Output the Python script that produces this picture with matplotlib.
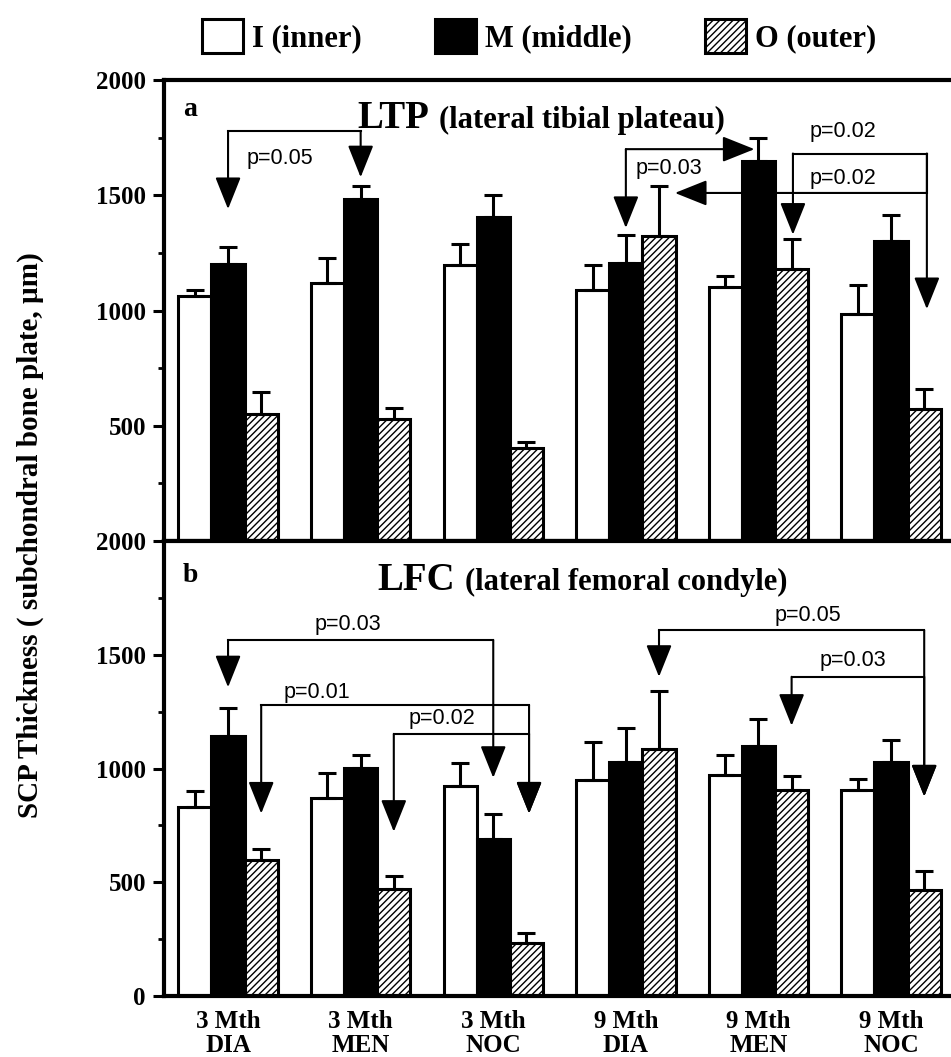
import numpy as np
import matplotlib.pyplot as plt
from matplotlib.ticker import MultipleLocator

plt.rcParams['font.family'] = 'Liberation Serif'
plt.rcParams['font.weight'] = 'bold'
plt.rcParams['hatch.linewidth'] = 1.0

# groups and zones
groups = ['3 Mth\nDIA', '3 Mth\nMEN', '3 Mth\nNOC', '9 Mth\nDIA', '9 Mth\nMEN', '9 Mth\nNOC']
zones = ['I (inner)', 'M (middle)', 'O (outer)']

# a: LTP (lateral tibial plateau), mean and upper SE
ltp_inner = [1065, 1119, 1197, 1087, 1101, 984]
ltp_middle = [1200, 1483, 1405, 1204, 1648, 1300]
ltp_outer = [551, 529, 404, 1322, 1182, 573]
ltp_inner_err = [25, 107, 92, 110, 47, 125]
ltp_middle_err = [77, 56, 96, 125, 102, 113]
ltp_outer_err = [95, 47, 25, 220, 128, 85]

# b: LFC (lateral femoral condyle)
lfc_inner = [832, 869, 925, 949, 971, 907]
lfc_middle = [1143, 1001, 689, 1030, 1098, 1030]
lfc_outer = [599, 471, 231, 1087, 904, 467]
lfc_inner_err = [70, 110, 99, 168, 89, 45]
lfc_middle_err = [124, 59, 110, 147, 120, 95]
lfc_outer_err = [45, 56, 45, 252, 63, 84]

# significance brackets: (x_left, tip_left, x_right, tip_right, y_bar, label, text_x, text_y)
# tip None -> no down arrow on that side
ltp_brackets = [
    (0.0, 1440, 1.0, 1578, 1777, 'p=0.05', 0.14, 1660),
    (4.26, 1329, 5.27, 1006, 1681, 'p=0.02', 4.385, 1775),
]
# horizontal arrows: (x_from, x_to, y, down_tip_at_from, label, text_x, text_y)
ltp_side = [
    (3.0, 3.97, 1700, 1358, 'p=0.03', 3.07, 1617),
    (5.27, 3.37, 1510, None, 'p=0.02', 4.385, 1572),
]
lfc_brackets = [
    (0.0, 1357, 2.0, 959, 1565, 'p=0.03', 0.656, 1635),
    (0.25, 802, 2.27, 802, 1278, 'p=0.01', 0.415, 1335),
    (1.25, 722, 2.27, 802, 1152, 'p=0.02', 1.36, 1218),
    (3.25, 1403, 5.25, 877, 1608, 'p=0.05', 4.12, 1673),
    (4.25, 1188, 5.25, 877, 1403, 'p=0.03', 4.46, 1473),
]

x = np.arange(len(groups))
w = 0.25
arrow_kw = dict(arrowstyle='-|>,head_length=1.0,head_width=0.4', mutation_scale=20,
                lw=1.5, color='k', shrinkA=0, shrinkB=0)
pfont = dict(family='Liberation Sans', weight='normal', fontsize=15.5)


def draw_bars(ax, inner, middle, outer, e_in, e_mid, e_out):
    ekw = dict(elinewidth=2.2, capsize=6.5, capthick=2.2, ecolor='k', zorder=3)
    zeros = np.zeros(len(x))
    b1 = ax.bar(x - w, inner, w, color='white', edgecolor='k', linewidth=2.2,
                yerr=[zeros, e_in], error_kw=ekw)
    b2 = ax.bar(x, middle, w, color='k', edgecolor='k', linewidth=2.2,
                yerr=[zeros, e_mid], error_kw=ekw)
    b3 = ax.bar(x + w, outer, w, color='white', edgecolor='k', linewidth=2.2,
                hatch='/////', yerr=[zeros, e_out], error_kw=ekw)
    return b1, b2, b3


def down_arrow(ax, xx, ytop, ytip):
    ax.annotate('', xy=(xx, ytip), xytext=(xx, ytop), arrowprops=arrow_kw, zorder=4)


def draw_brackets(ax, brackets):
    for x1, t1, x2, t2, y, lab, tx, ty in brackets:
        ax.plot([x1, x2], [y, y], color='k', lw=1.5, solid_capstyle='projecting', zorder=4)
        down_arrow(ax, x1, y, t1)
        down_arrow(ax, x2, y, t2)
        ax.text(tx, ty, lab, va='center', ha='left', **pfont)


def style_axis(ax, yticks):
    ax.set_xlim(-0.483, 5.452)
    ax.set_ylim(0, 2000)
    ax.set_yticks(yticks)
    ax.yaxis.set_minor_locator(MultipleLocator(250))
    for s in ['left', 'top', 'bottom']:
        ax.spines[s].set_linewidth(3)
    ax.spines['right'].set_visible(False)
    ax.tick_params(axis='y', which='major', direction='out', length=8, width=2.2,
                   labelsize=18, pad=5)
    ax.tick_params(axis='y', which='minor', direction='out', length=4, width=2.0)


fig = plt.figure(figsize=(9.51, 10.57), dpi=100)
ax_a = fig.add_axes([0.17245, 0.48817, 0.82755, 0.43614])
ax_b = fig.add_axes([0.17245, 0.05771, 0.82755, 0.43046])

# panel a
bars = draw_bars(ax_a, ltp_inner, ltp_middle, ltp_outer,
                 ltp_inner_err, ltp_middle_err, ltp_outer_err)
style_axis(ax_a, [500, 1000, 1500, 2000])
ax_a.set_xticks([])
draw_brackets(ax_a, ltp_brackets)
for x0, x1, y, tip, lab, tx, ty in ltp_side:
    ax_a.annotate('', xy=(x1, y), xytext=(x0, y), arrowprops=arrow_kw, zorder=4)
    if tip is not None:
        down_arrow(ax_a, x0, y, tip)
    ax_a.text(tx, ty, lab, va='center', ha='left', **pfont)
ax_a.plot([5.27, 5.27], [1681, 1510], color='k', lw=1.5)
ax_a.text(-0.34, 1845, 'a', fontsize=20, va='baseline', ha='left')
t = ax_a.text(0.973, 1792, 'LTP', fontsize=28, va='baseline', ha='left')
ax_a.annotate('(lateral tibial plateau)', xy=(1.0, 1792), xycoords=(t, 'data'),
              xytext=(7, 0), textcoords='offset points', fontsize=22, va='baseline')

# panel b
draw_bars(ax_b, lfc_inner, lfc_middle, lfc_outer,
          lfc_inner_err, lfc_middle_err, lfc_outer_err)
style_axis(ax_b, [0, 500, 1000, 1500, 2000])
ax_b.set_xticks(x)
ax_b.set_xticklabels(groups, fontsize=18, linespacing=1.05)
ax_b.tick_params(axis='x', length=0, pad=10)
draw_brackets(ax_b, lfc_brackets)
ax_b.text(-0.34, 1820, 'b', fontsize=20, va='baseline', ha='left')
t = ax_b.text(1.124, 1785, 'LFC', fontsize=28, va='baseline', ha='left')
ax_b.annotate('(lateral femoral condyle)', xy=(1.0, 1785), xycoords=(t, 'data'),
              xytext=(7, 0), textcoords='offset points', fontsize=22, va='baseline')

fig.text(0.0315, 0.494, 'SCP Thickness ( subchondral bone plate, \u00b5m)',
         rotation=90, va='center', ha='center', fontsize=21)

fig.legend(bars, zones, loc='center', bbox_to_anchor=(0.567, 0.966), ncol=3,
           frameon=False, fontsize=22, handlelength=1.34, handleheight=1.34,
           handletextpad=0.3, columnspacing=2.4)

fig.savefig('out.png', dpi=100)
